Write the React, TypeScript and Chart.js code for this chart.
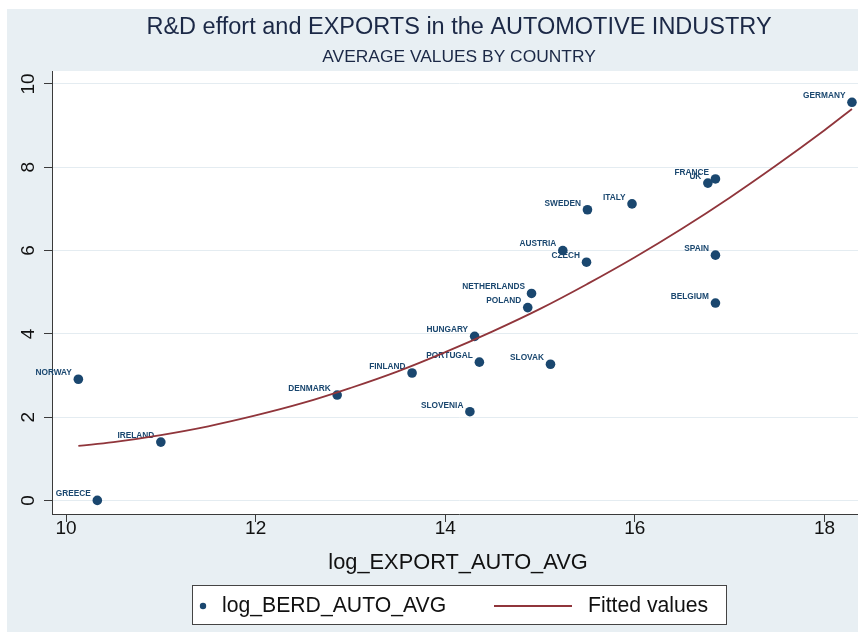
import React, { useEffect, useRef } from "react";
import { Chart, registerables } from "chart.js";

Chart.register(...registerables);

// ---- data ----
const countries = [
  "GERMANY", "FRANCE", "UK", "ITALY", "SWEDEN", "AUSTRIA", "CZECH", "SPAIN",
  "BELGIUM", "NETHERLANDS", "POLAND", "HUNGARY", "PORTUGAL", "SLOVAK",
  "FINLAND", "SLOVENIA", "DENMARK", "NORWAY", "IRELAND", "GREECE",
];
const logExportAutoAvg = [
  18.29, 16.85, 16.77, 15.97, 15.5, 15.24, 15.49, 16.85,
  16.85, 14.91, 14.87, 14.31, 14.36, 15.11,
  13.65, 14.26, 12.86, 10.13, 11.0, 10.33,
];
const logBerdAutoAvg = [
  9.56, 7.72, 7.62, 7.12, 6.98, 6.0, 5.72, 5.89,
  4.74, 4.97, 4.63, 3.94, 3.32, 3.27,
  3.06, 2.13, 2.53, 2.91, 1.4, 0.0,
];
const fittedX = [10.13, 10.5, 11, 11.5, 12, 12.5, 13, 13.5, 14, 14.5, 15, 15.5, 16, 16.5, 17, 17.5, 18, 18.29];
const fittedY = [1.31, 1.4, 1.57, 1.78, 2.04, 2.34, 2.7, 3.1, 3.56, 4.06, 4.6, 5.2, 5.84, 6.53, 7.27, 8.06, 8.89, 9.4];
const xTicks = [10, 12, 14, 16, 18];
const yTicks = [0, 2, 4, 6, 8, 10];

const titleText = "R&D effort and EXPORTS in the AUTOMOTIVE INDUSTRY";
const subtitleText = "AVERAGE VALUES BY COUNTRY";
const xTitleText = "log_EXPORT_AUTO_AVG";
const seriesName = "log_BERD_AUTO_AVG";
const fitName = "Fitted values";

const FONT = "'Liberation Sans', Arial, Helvetica, sans-serif";
const NAVY = "#1a476f";
const MAROON = "#90353b";
const PANEL = "#e8eff3";
const GRID = "#e4ecf1";
const AXIS = "#3a3a3a";

const CW = 918;
const CH = 632;

const decor = {
  id: "stataDecor",
  beforeDraw(chart: any) {
    const { ctx, chartArea } = chart;
    ctx.save();
    ctx.fillStyle = "#ffffff";
    ctx.fillRect(0, 0, CW, CH);
    ctx.fillStyle = PANEL;
    ctx.fillRect(7, 9, CW - 14, CH - 9);
    ctx.fillStyle = "#ffffff";
    ctx.fillRect(chartArea.left, chartArea.top, chartArea.right - chartArea.left, chartArea.bottom - chartArea.top);
    ctx.restore();
  },
  beforeDatasetsDraw(chart: any) {
    const { ctx } = chart;
    const meta = chart.getDatasetMeta(1);
    ctx.save();
    ctx.font = `bold 8.3px ${FONT}`;
    ctx.fillStyle = NAVY;
    ctx.textAlign = "right";
    ctx.textBaseline = "middle";
    meta.data.forEach((pt: any, i: number) => {
      ctx.fillText(countries[i], pt.x - 6.5, pt.y - 6.5);
    });
    ctx.restore();
  },
  afterDraw(chart: any) {
    const { ctx, scales } = chart;
    const y = scales.y;
    ctx.save();
    // y tick labels (vertical, reading upward)
    ctx.fillStyle = "#111";
    ctx.font = `19px ${FONT}`;
    ctx.textAlign = "center";
    ctx.textBaseline = "middle";
    yTicks.forEach((v) => {
      const py = y.getPixelForValue(v);
      ctx.save();
      ctx.translate(28.5, py);
      ctx.rotate(-Math.PI / 2);
      ctx.fillText(String(v), 0, 0);
      ctx.restore();
    });
    // titles
    ctx.fillStyle = "#1b2846";
    ctx.font = `23.5px ${FONT}`;
    ctx.fillText(titleText, CW / 2, 28);
    ctx.font = `17.4px ${FONT}`;
    ctx.fillText(subtitleText, CW / 2, 57);
    // x title
    ctx.fillStyle = "#111";
    ctx.font = `21.8px ${FONT}`;
    ctx.fillText(xTitleText, (chart.chartArea.left + chart.chartArea.right) / 2 - 1, 563);
    // legend
    const lx = 192.5, ly = 585.5, lw = 534, lh = 39;
    ctx.fillStyle = "#ffffff";
    ctx.fillRect(lx, ly, lw, lh);
    ctx.strokeStyle = "#444";
    ctx.lineWidth = 1;
    ctx.strokeRect(lx, ly, lw, lh);
    const cy = ly + lh / 2 + 1;
    ctx.fillStyle = NAVY;
    ctx.beginPath();
    ctx.arc(203, cy, 3.2, 0, Math.PI * 2);
    ctx.fill();
    ctx.fillStyle = "#111";
    ctx.font = `21.2px ${FONT}`;
    ctx.textAlign = "left";
    ctx.fillText(seriesName, 222, cy);
    ctx.strokeStyle = MAROON;
    ctx.lineWidth = 2;
    ctx.beginPath();
    ctx.moveTo(494, cy);
    ctx.lineTo(572, cy);
    ctx.stroke();
    ctx.fillText(fitName, 588, cy);
    ctx.restore();
  },
};

export default function App() {
  const ref = useRef<HTMLCanvasElement | null>(null);
  useEffect(() => {
    if (!ref.current) return;
    const pts = logExportAutoAvg.map((x, i) => ({ x, y: logBerdAutoAvg[i] }));
    const fit = fittedX.map((x, i) => ({ x, y: fittedY[i] }));
    const chart = new Chart(ref.current, {
      type: "scatter",
      data: {
        datasets: [
          {
            label: fitName,
            data: fit,
            showLine: true,
            borderColor: MAROON,
            borderWidth: 1.8,
            pointRadius: 0,
            tension: 0.4,
            fill: false,
            order: 0,
          } as any,
          {
            label: seriesName,
            data: pts,
            backgroundColor: NAVY,
            borderColor: NAVY,
            borderWidth: 0,
            pointRadius: 4.8,
            order: 1,
          },
        ],
      },
      options: {
        responsive: false,
        animation: false,
        events: [],
        layout: { padding: { left: 0, right: 52, top: 71, bottom: 0 } },
        plugins: {
          legend: { display: false },
          tooltip: { enabled: false },
          title: { display: false },
        },
        scales: {
          x: {
            type: "linear",
            min: 9.852,
            max: 18.438,
            afterBuildTicks: (s: any) => {
              s.ticks = xTicks.map((v) => ({ value: v }));
            },
            afterFit: (s: any) => {
              s.height = CH - 514;
            },
            grid: {
              drawOnChartArea: false,
              drawTicks: true,
              tickLength: 8,
              tickColor: AXIS,
              tickWidth: 1,
            },
            border: { display: true, color: AXIS, width: 1 },
            ticks: {
              color: "#111",
              font: { family: FONT, size: 19 },
              padding: -5,
              maxRotation: 0,
              autoSkip: false,
            },
          },
          y: {
            type: "linear",
            min: -0.326,
            max: 10.312,
            afterBuildTicks: (s: any) => {
              s.ticks = yTicks.map((v) => ({ value: v }));
            },
            afterFit: (s: any) => {
              s.width = 52;
            },
            grid: {
              color: GRID,
              lineWidth: 1,
              drawTicks: true,
              tickLength: 8,
              tickColor: AXIS,
              tickWidth: 1,
            },
            border: { display: true, color: AXIS, width: 1 },
            ticks: { display: false },
          },
        },
      },
      plugins: [decor],
    });
    return () => chart.destroy();
  }, []);
  return (
    <div style={{ position: "absolute", left: 0, top: 0, width: 858, height: 632, overflow: "hidden", background: "#fff" }}>
      <canvas ref={ref} width={CW} height={CH} style={{ display: "block", width: CW, height: CH }} />
    </div>
  );
}
